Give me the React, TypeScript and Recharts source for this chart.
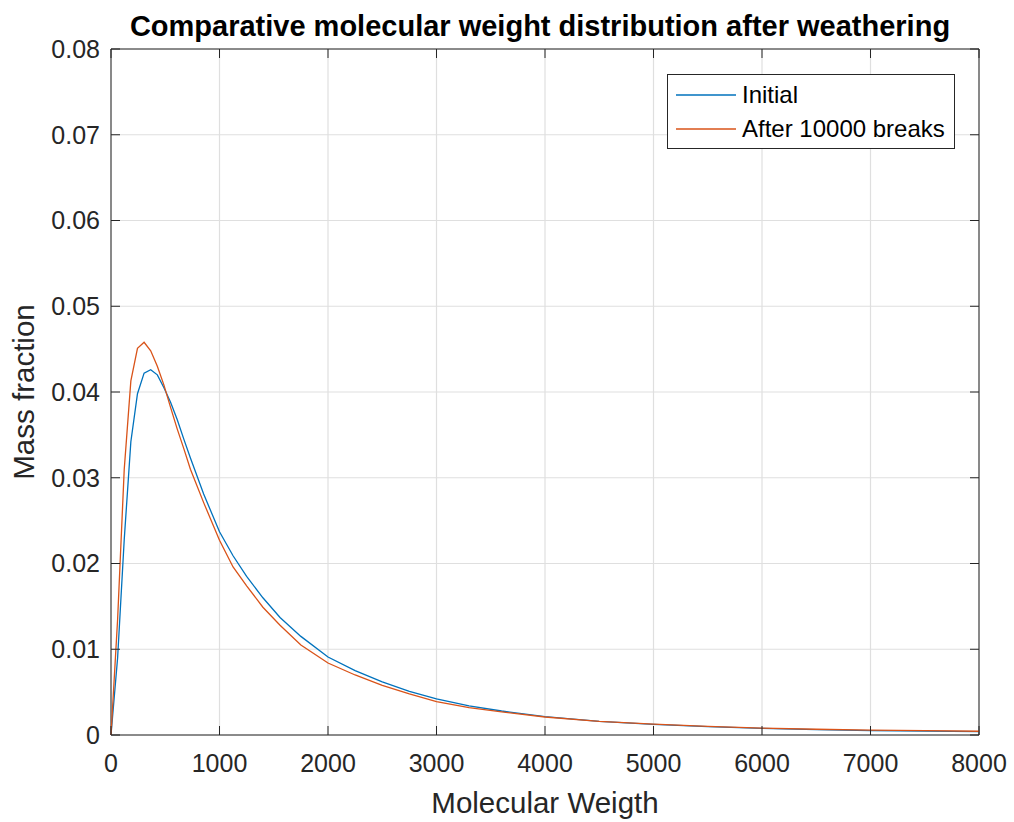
import React from 'react';
import { LineChart, Line, XAxis, YAxis, CartesianGrid, Legend, ReferenceArea } from 'recharts';

// molecular weight samples (x) and the two mass fraction curves
const molWeight = [0, 61, 122, 183, 244, 305, 366, 427, 488, 549, 610, 671, 732, 854, 1000, 1125, 1250, 1400, 1558, 1750, 2000, 2250, 2500, 2750, 3000, 3300, 3600, 4000, 4500, 5000, 5500, 6000, 6500, 7000, 7500, 8000];
const initial = [0, 0.009, 0.0228, 0.0342, 0.0398, 0.0422, 0.0426, 0.042, 0.0405, 0.0388, 0.0368, 0.0345, 0.0323, 0.0281, 0.0237, 0.0209, 0.0185, 0.016, 0.0137, 0.0115, 0.0091, 0.0075, 0.0062, 0.0051, 0.0042, 0.0034, 0.0028, 0.00215, 0.0016, 0.00124, 0.00097, 0.00077, 0.00063, 0.00052, 0.00045, 0.0004];
const afterBreaks = [0, 0.0135, 0.031, 0.0413, 0.0451, 0.0458, 0.0448, 0.043, 0.0408, 0.0382, 0.0357, 0.0334, 0.031, 0.0271, 0.0227, 0.0196, 0.0174, 0.0149, 0.0128, 0.0105, 0.0084, 0.007, 0.0058, 0.0048, 0.0039, 0.0032, 0.0027, 0.0021, 0.0016, 0.00127, 0.001, 0.0008, 0.00067, 0.00057, 0.0005, 0.00044];

const seriesNames = ['Initial', 'After 10000 breaks'];
const xTicks = [0, 1000, 2000, 3000, 4000, 5000, 6000, 7000, 8000];
const yTicks = [0, 0.01, 0.02, 0.03, 0.04, 0.05, 0.06, 0.07, 0.08];

const data = molWeight.map((mw, i) => ({ mw, initial: initial[i], after: afterBreaks[i] }));

const FONT = '"Liberation Sans", Arial, Helvetica, sans-serif';
const INK = '#262626';
// plot box
const LEFT = 111;
const RIGHT = 979;
const TOP = 49;
const BOTTOM = 735;
const TICK = 9;

const XTick = (props: any) => {
  const { x, payload } = props;
  return (
    <g>
      <line x1={x} x2={x} y1={BOTTOM} y2={BOTTOM - TICK} stroke={INK} />
      <line x1={x} x2={x} y1={TOP} y2={TOP + TICK} stroke={INK} />
      <text x={x} y={763} dy="0.35em" textAnchor="middle" fill={INK} fontSize={25} fontFamily={FONT}>
        {String(payload.value)}
      </text>
    </g>
  );
};

const YTick = (props: any) => {
  const { y, payload } = props;
  return (
    <g>
      <line x1={LEFT} x2={LEFT + TICK} y1={y} y2={y} stroke={INK} />
      <line x1={RIGHT} x2={RIGHT - TICK} y1={y} y2={y} stroke={INK} />
      <text x={100} y={y} dy="0.35em" textAnchor="end" fill={INK} fontSize={25} fontFamily={FONT}>
        {String(payload.value)}
      </text>
    </g>
  );
};

const LegendBox = (props: any) => {
  const items = [...(props.payload || [])].sort(
    (a: any, b: any) => seriesNames.indexOf(a.value) - seriesNames.indexOf(b.value)
  );
  return (
    <div
      style={{
        position: 'relative',
        width: 286,
        height: 73,
        border: `1px solid ${INK}`,
        background: '#fff',
        fontFamily: FONT,
        fontSize: 24,
        color: '#000',
      }}
    >
      {items.map((it: any, i: number) => (
        <div key={it.value} style={{ position: 'absolute', left: 8, top: 20 + i * 33.5 - 14, height: 28, display: 'flex', alignItems: 'center' }}>
          <svg width={60} height={4} style={{ display: 'block' }}>
            <line x1={0} x2={60} y1={2} y2={2} stroke={it.color} strokeWidth={1.3} />
          </svg>
          <span style={{ marginLeft: 6, whiteSpace: 'nowrap' }}>{it.value}</span>
        </div>
      ))}
    </div>
  );
};

export default function App() {
  return (
    <div style={{ position: 'absolute', left: 0, top: 0, width: 1014, height: 822, background: '#fff' }}>
      <div
        style={{
          position: 'absolute',
          left: 0,
          width: 1080,
          top: 10,
          textAlign: 'center',
          fontFamily: FONT,
          fontWeight: 'bold',
          fontSize: 29,
          color: '#000',
          zIndex: 2,
          whiteSpace: 'nowrap',
        }}
      >
        Comparative molecular weight distribution after weathering
      </div>
      <LineChart
        width={1014}
        height={822}
        data={data}
        margin={{ top: TOP, right: 1014 - RIGHT, bottom: 822 - BOTTOM - 80, left: LEFT - 100 }}
      >
        <CartesianGrid stroke="#dfdfdf" strokeWidth={1.2} />
        <XAxis
          dataKey="mw"
          type="number"
          domain={[0, 8000]}
          ticks={xTicks}
          interval={0}
          height={80}
          axisLine={false}
          tickLine={false}
          tick={<XTick />}
          label={{
            value: 'Molecular Weigth',
            content: () => (
              <text x={545} y={803} dy="0.35em" textAnchor="middle" fill={INK} fontSize={29.5} fontFamily={FONT}>
                Molecular Weigth
              </text>
            ),
          }}
        />
        <YAxis
          type="number"
          domain={[0, 0.08]}
          ticks={yTicks}
          interval={0}
          width={100}
          axisLine={false}
          tickLine={false}
          tick={<YTick />}
          label={{
            value: 'Mass fraction',
            content: () => (
              <text
                x={24}
                y={392}
                dy="0.35em"
                textAnchor="middle"
                fill={INK}
                fontSize={29.5}
                fontFamily={FONT}
                transform="rotate(-90 24 392)"
              >
                Mass fraction
              </text>
            ),
          }}
        />
        <ReferenceArea x1={0} x2={8000} y1={0} y2={0.08} fill="none" stroke={INK} strokeWidth={1} ifOverflow="visible" />
        <Line
          type="linear"
          dataKey="initial"
          name={seriesNames[0]}
          stroke="#0072BD"
          strokeWidth={1.3}
          dot={false}
          activeDot={false}
          isAnimationActive={false}
        />
        <Line
          type="linear"
          dataKey="after"
          name={seriesNames[1]}
          stroke="#D95319"
          strokeWidth={1.3}
          dot={false}
          activeDot={false}
          isAnimationActive={false}
        />
        <Legend
          layout="horizontal"
          verticalAlign="middle"
          align="center"
          content={<LegendBox />}
          wrapperStyle={{ left: 667, top: 74, width: 288, right: 'auto', bottom: 'auto' }}
        />
      </LineChart>
    </div>
  );
}
